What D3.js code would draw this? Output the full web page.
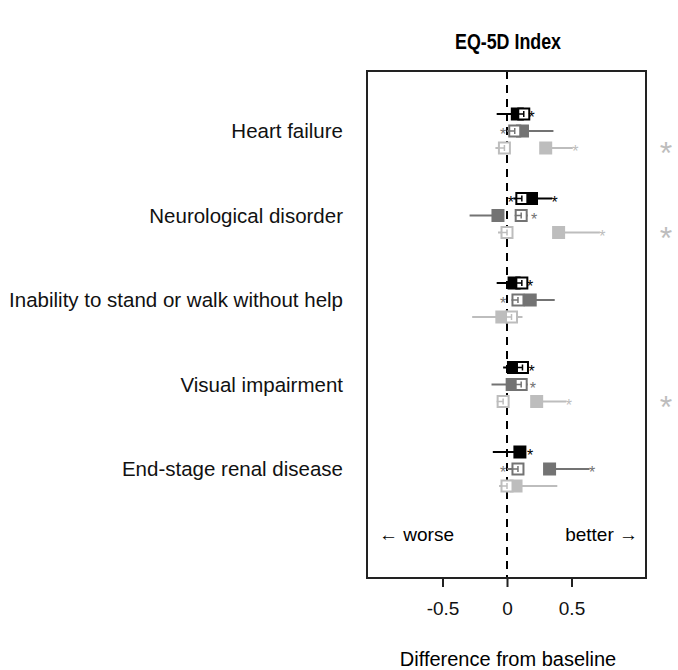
<!DOCTYPE html>
<html>
<head>
<meta charset="utf-8">
<script src="https://cdn.jsdelivr.net/npm/d3@7"></script>
<style>
  body { margin: 0; background: #fff; }
  text { font-family: "Liberation Sans", Arial, sans-serif; }
</style>
</head>
<body>
<div id="chart"></div>
<script>
var width = 678, height = 670;

var conditions = ["Heart failure", "Neurological disorder", "Inability to stand or walk without help",
                  "Visual impairment", "End-stage renal disease"];
var rowColors = ["#000000", "#737373", "#bdbdbd"];

// filled squares (one value per row: black, dark gray, light gray)
var filledEst = [[0.08, 0.12, 0.30], [0.19, -0.07, 0.40], [0.055, 0.18, -0.04], [0.05, 0.04, 0.23], [0.10, 0.33, 0.07]];
var filledLo  = [[-0.08, 0.06, 0.27], [0.12, -0.29, 0.36], [-0.08, 0.12, -0.27], [-0.03, -0.12, 0.20], [-0.11, 0.30, -0.06]];
var filledHi  = [[0.13, 0.36, 0.51], [0.35, -0.03, 0.72], [0.10, 0.37, 0.00], [0.09, 0.08, 0.46], [0.14, 0.64, 0.39]];
// open squares
var openEst = [[0.13, 0.06, -0.02], [0.115, 0.11, 0.0], [0.115, 0.085, 0.035], [0.12, 0.11, -0.03], [null, 0.085, 0.0]];
var openLo  = [[0.09, 0.0, -0.09], [0.05, 0.07, -0.07], [0.08, 0.04, 0.0], [0.09, 0.07, -0.07], [null, 0.0, -0.06]];
var openHi  = [[0.16, 0.10, 0.02], [0.16, 0.16, 0.04], [0.15, 0.12, 0.12], [0.15, 0.16, 0.01], [null, 0.12, 0.04]];
// small significance stars
var stars = [[[0.19], [-0.03], [0.53]], [[0.03, 0.37], [0.21], [0.74]], [[0.18], [-0.03], []],
             [[0.19], [0.20], [0.48]], [[0.18], [-0.03, 0.66], []]];
var bigStar = [true, true, false, true, false];
var xTicks = [-0.5, 0, 0.5];

var svg = d3.select("#chart").append("svg")
    .attr("width", width).attr("height", height);

var box = {left: 367, right: 646, top: 71, bottom: 578};

var x = d3.scaleLinear().domain([-1, 1]).range([378, 636]);
var y = d3.scalePoint().domain(conditions).range([131, 469]);
var rowOff = [-17, 0, 17];
var sq = 13;

// title
svg.append("text").attr("x", 508).attr("y", 49).attr("text-anchor", "middle")
   .style("font-size", "22px").style("font-weight", "bold")
   .attr("textLength", 106).attr("lengthAdjust", "spacingAndGlyphs")
   .text("EQ-5D Index");

// zero line
svg.append("line").attr("x1", x(0)).attr("x2", x(0))
   .attr("y1", box.top).attr("y2", box.bottom)
   .attr("stroke", "#000").attr("stroke-width", 2).attr("stroke-dasharray", "8,6");

// condition labels
svg.selectAll(".lab").data(conditions).enter().append("text")
   .attr("x", 343).attr("y", function(d) { return y(d) + 7; })
   .attr("text-anchor", "end").style("font-size", "20.5px").attr("fill", "#111")
   .text(function(d) { return d; });

var rows = [];
conditions.forEach(function(c, i) {
  for (var j = 0; j < 3; j++) {
    rows.push({c: c, i: i, j: j, y: y(c) + rowOff[j], col: rowColors[j]});
  }
});

// CI lines
rows.forEach(function(r) {
  svg.append("line").attr("x1", x(filledLo[r.i][r.j])).attr("x2", x(filledHi[r.i][r.j]))
     .attr("y1", r.y).attr("y2", r.y).attr("stroke", r.col).attr("stroke-width", 2);
  if (openEst[r.i][r.j] !== null) {
    svg.append("line").attr("x1", x(openLo[r.i][r.j])).attr("x2", x(openHi[r.i][r.j]))
       .attr("y1", r.y).attr("y2", r.y).attr("stroke", r.col).attr("stroke-width", 2);
  }
});

// filled squares
svg.selectAll(".fsq").data(rows).enter().append("rect")
   .attr("x", function(d) { return x(filledEst[d.i][d.j]) - sq / 2; })
   .attr("y", function(d) { return d.y - sq / 2; })
   .attr("width", sq).attr("height", sq)
   .attr("fill", function(d) { return d.col; });

// open squares
var openRows = rows.filter(function(d) { return openEst[d.i][d.j] !== null; });
var og = svg.selectAll(".osq").data(openRows).enter().append("g");
og.append("rect")
   .attr("x", function(d) { return x(openEst[d.i][d.j]) - sq / 2 + 1; })
   .attr("y", function(d) { return d.y - sq / 2 + 1; })
   .attr("width", sq - 2).attr("height", sq - 2)
   .attr("fill", "#fff").attr("stroke", function(d) { return d.col; }).attr("stroke-width", 2);
og.append("line")
   .attr("x1", function(d) { return x(openEst[d.i][d.j]) - sq / 2; })
   .attr("x2", function(d) { return x(openEst[d.i][d.j]); })
   .attr("y1", function(d) { return d.y; }).attr("y2", function(d) { return d.y; })
   .attr("stroke", function(d) { return d.col; }).attr("stroke-width", 1.5);
og.append("line")
   .attr("x1", function(d) { return x(openEst[d.i][d.j]); })
   .attr("x2", function(d) { return x(openEst[d.i][d.j]); })
   .attr("y1", function(d) { return d.y - 3; }).attr("y2", function(d) { return d.y + 3; })
   .attr("stroke", function(d) { return d.col; }).attr("stroke-width", 1.5);

// small stars
rows.forEach(function(r) {
  stars[r.i][r.j].forEach(function(s) {
    svg.append("text").attr("x", x(s)).attr("y", r.y + 9)
       .attr("text-anchor", "middle").style("font-size", "16px")
       .attr("fill", r.col).text("*");
  });
});

// big stars on the right
conditions.forEach(function(c, i) {
  if (bigStar[i]) {
    svg.append("text").attr("x", 666).attr("y", y(c) + rowOff[2] + 16)
       .attr("text-anchor", "middle").style("font-size", "32px")
       .attr("fill", rowColors[2]).text("*");
  }
});

// plot frame
svg.append("rect").attr("x", box.left).attr("y", box.top)
   .attr("width", box.right - box.left).attr("height", box.bottom - box.top)
   .attr("fill", "none").attr("stroke", "#222").attr("stroke-width", 2);

// direction labels
svg.append("text").attr("x", 379).attr("y", 541).style("font-size", "19px").text("\u2190 worse");
svg.append("text").attr("x", 638).attr("y", 541).attr("text-anchor", "end")
   .style("font-size", "19px").text("better \u2192");

// x axis
var xAxis = d3.axisBottom(x).tickValues(xTicks).tickSize(9).tickPadding(15)
   .tickFormat(function(d) { return d === 0 ? "0" : String(d); });
var ax = svg.append("g").attr("transform", "translate(0," + box.bottom + ")").call(xAxis);
ax.select(".domain").remove();
ax.selectAll(".tick line").attr("stroke", "#222").attr("stroke-width", 2);
ax.selectAll(".tick text").style("font-size", "19px")
  .style("font-family", "'Liberation Sans', Arial, sans-serif").attr("fill", "#111");

svg.append("text").attr("x", 508).attr("y", 666).attr("text-anchor", "middle")
   .style("font-size", "20px").text("Difference from baseline");
</script>
</body>
</html>
